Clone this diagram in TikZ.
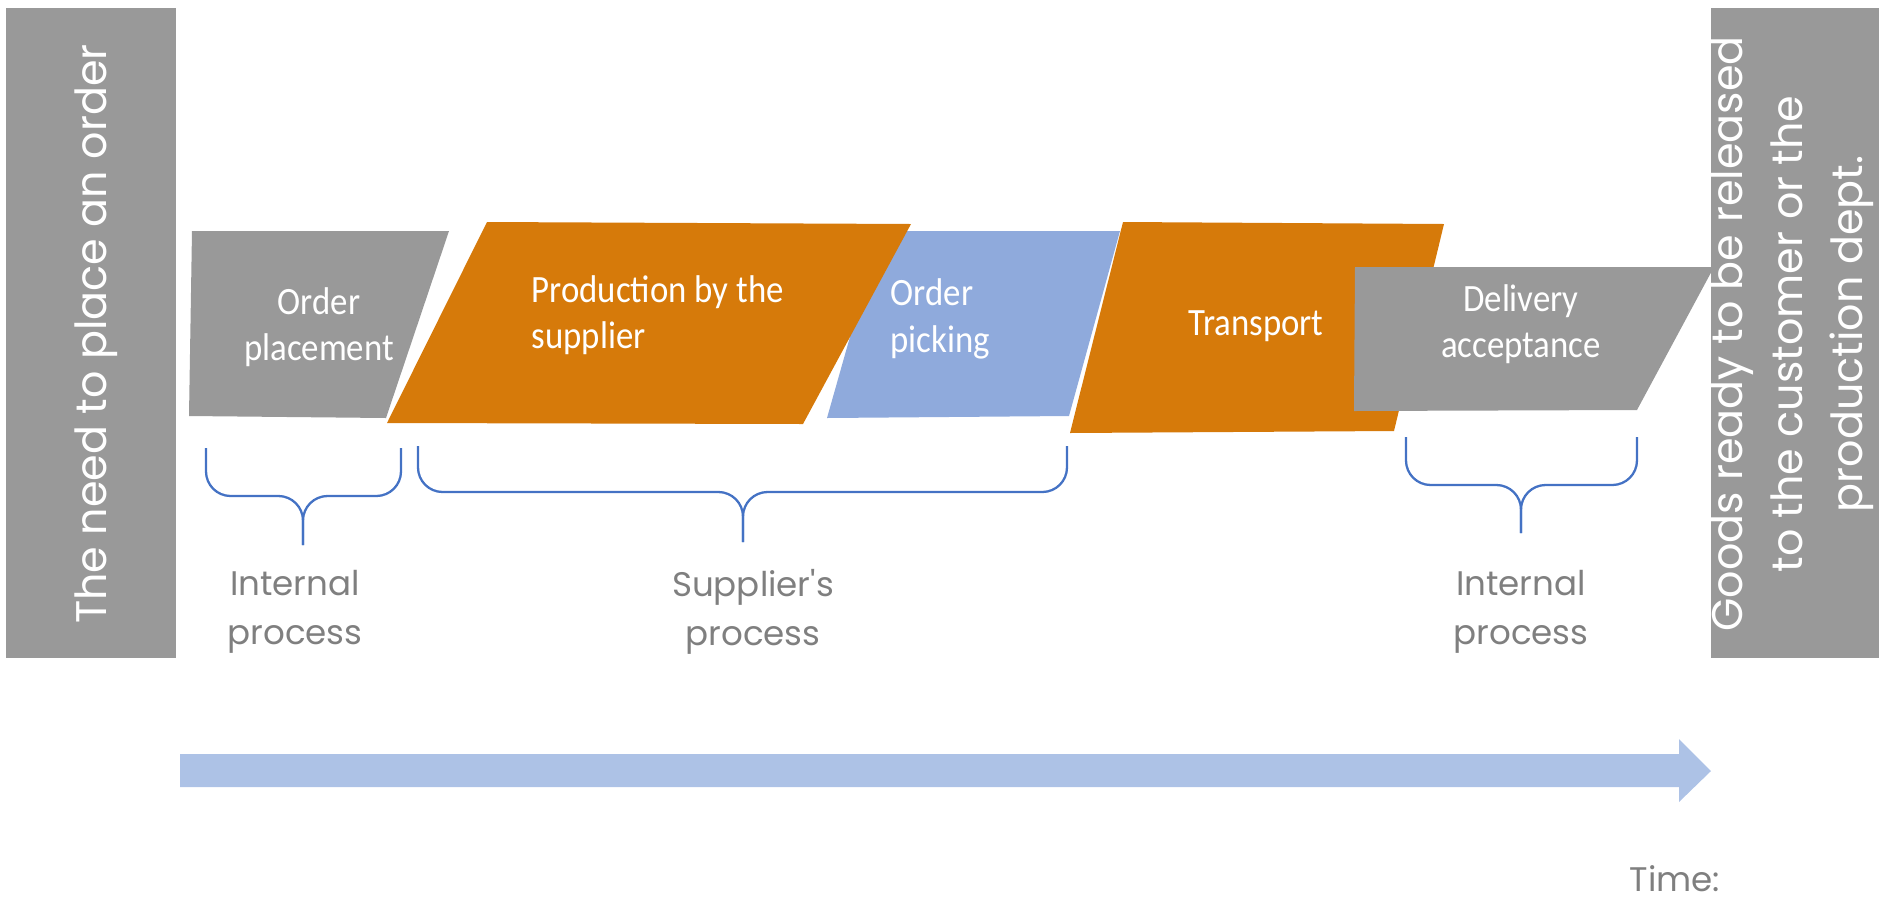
\documentclass[tikz,border=0pt]{standalone}
\usepackage{fontspec}
\setmainfont{Poppins}
\newfontfamily\boxfont[FakeStretch=0.9]{Carlito}
\usetikzlibrary{positioning}

\definecolor{stepgray}{RGB}{153,153,153}
\definecolor{supplierorange}{RGB}{214,122,10}
\definecolor{pickblue}{RGB}{143,170,220}
\definecolor{timeblue}{RGB}{173,194,230}
\definecolor{braceblue}{RGB}{68,114,196}
\definecolor{labelgray}{RGB}{127,127,127}

\tikzset{
	steptext/.style={text=white, font=\boxfont\fontsize{11}{13.2}\selectfont, align=center, inner sep=0pt},
	sidetext/.style={text=white, rotate=90, font=\fontsize{12.2}{17}\selectfont, align=center, inner sep=0pt},
	proclabel/.style={text=labelgray, font=\fontsize{9.7}{14}\selectfont, align=center, inner sep=0pt},
	procbrace/.style={draw=braceblue, line width=0.65pt, rounded corners=7},
}

\begin{document}
\begin{tikzpicture}[x=0.1mm, y=-0.1mm]
	\useasboundingbox (0,0) rectangle (1879,902);
	\pgfmathsetmacro{\ytop}{448}
	\pgfmathsetmacro{\ymid}{496}
	\pgfmathsetmacro{\ytip}{545}

	%Start and end bars
	\fill[stepgray] (6,8) rectangle (176,658);
	\fill[stepgray] (1711,8) rectangle (1879,658);
	\draw (96,334) node[sidetext] (need) {The need to place an order};
	\draw (1792,334) node[sidetext] (goods) {Goods ready to be released\\to the customer or the\\production dept.};

	%Process steps, later ones lie on top
	\fill[stepgray] (192,231) -- (449,231) -- (386,418) -- (189,416) -- cycle;
	\fill[pickblue] (880,231) -- (1120,231) -- (1069,416) -- (827,418) -- cycle;
	\fill[supplierorange] (487,222) -- (911,224) -- (803,424) -- (387,423) -- cycle;
	\fill[supplierorange] (1123,222) -- (1444,224) -- (1394,431) -- (1070,433) -- cycle;
	\fill[stepgray] (1355,267) -- (1714,267) -- (1637,410) -- (1354,411) -- cycle;

	\draw (319,327) node[steptext] (placement) {Order\\placement};
	\draw (531,315) node[steptext, anchor=west, align=left] (production) {Production by the\\supplier};
	\draw (890,319) node[steptext, anchor=west, align=left] (picking) {Order\\picking};
	\draw (1256,326) node[steptext] (transport) {Transport};
	\draw (1521,324) node[steptext] (acceptance) {Delivery\\acceptance};

	%Braces under the steps
	\draw[procbrace] (206,\ytop)--(206,\ymid)--(303,\ymid)--(303,\ytip);
	\draw[procbrace] (401,\ytop)--(401,\ymid)--(303,\ymid)--(303,\ytip);
	\draw[procbrace] (418,\ytop-2)--(418,\ymid-4)--(743,\ymid-4)--(743,\ytip-3);
	\draw[procbrace] (1067,\ytop-2)--(1067,\ymid-4)--(743,\ymid-4)--(743,\ytip-3);
	\draw[procbrace] (1406,\ytop-11)--(1406,\ymid-11)--(1521,\ymid-11)--(1521,\ytip-12);
	\draw[procbrace] (1637,\ytop-11)--(1637,\ymid-11)--(1521,\ymid-11)--(1521,\ytip-12);

	\draw (295,612) node[proclabel] (internalone) {Internal\\process};
	\draw (753,612) node[proclabel] (supplierproc) {Supplier\textquotesingle s\\process};
	\draw (1521,612) node[proclabel] (internaltwo) {Internal\\process};

	%Time axis
	\fill[timeblue] (180,754) -- (1679,754) -- (1679,739) -- (1711,771) -- (1679,802) -- (1679,787) -- (180,787) -- cycle;
	\draw (1675,879) node[proclabel] (time) {Time:};

\end{tikzpicture}
\end{document}
